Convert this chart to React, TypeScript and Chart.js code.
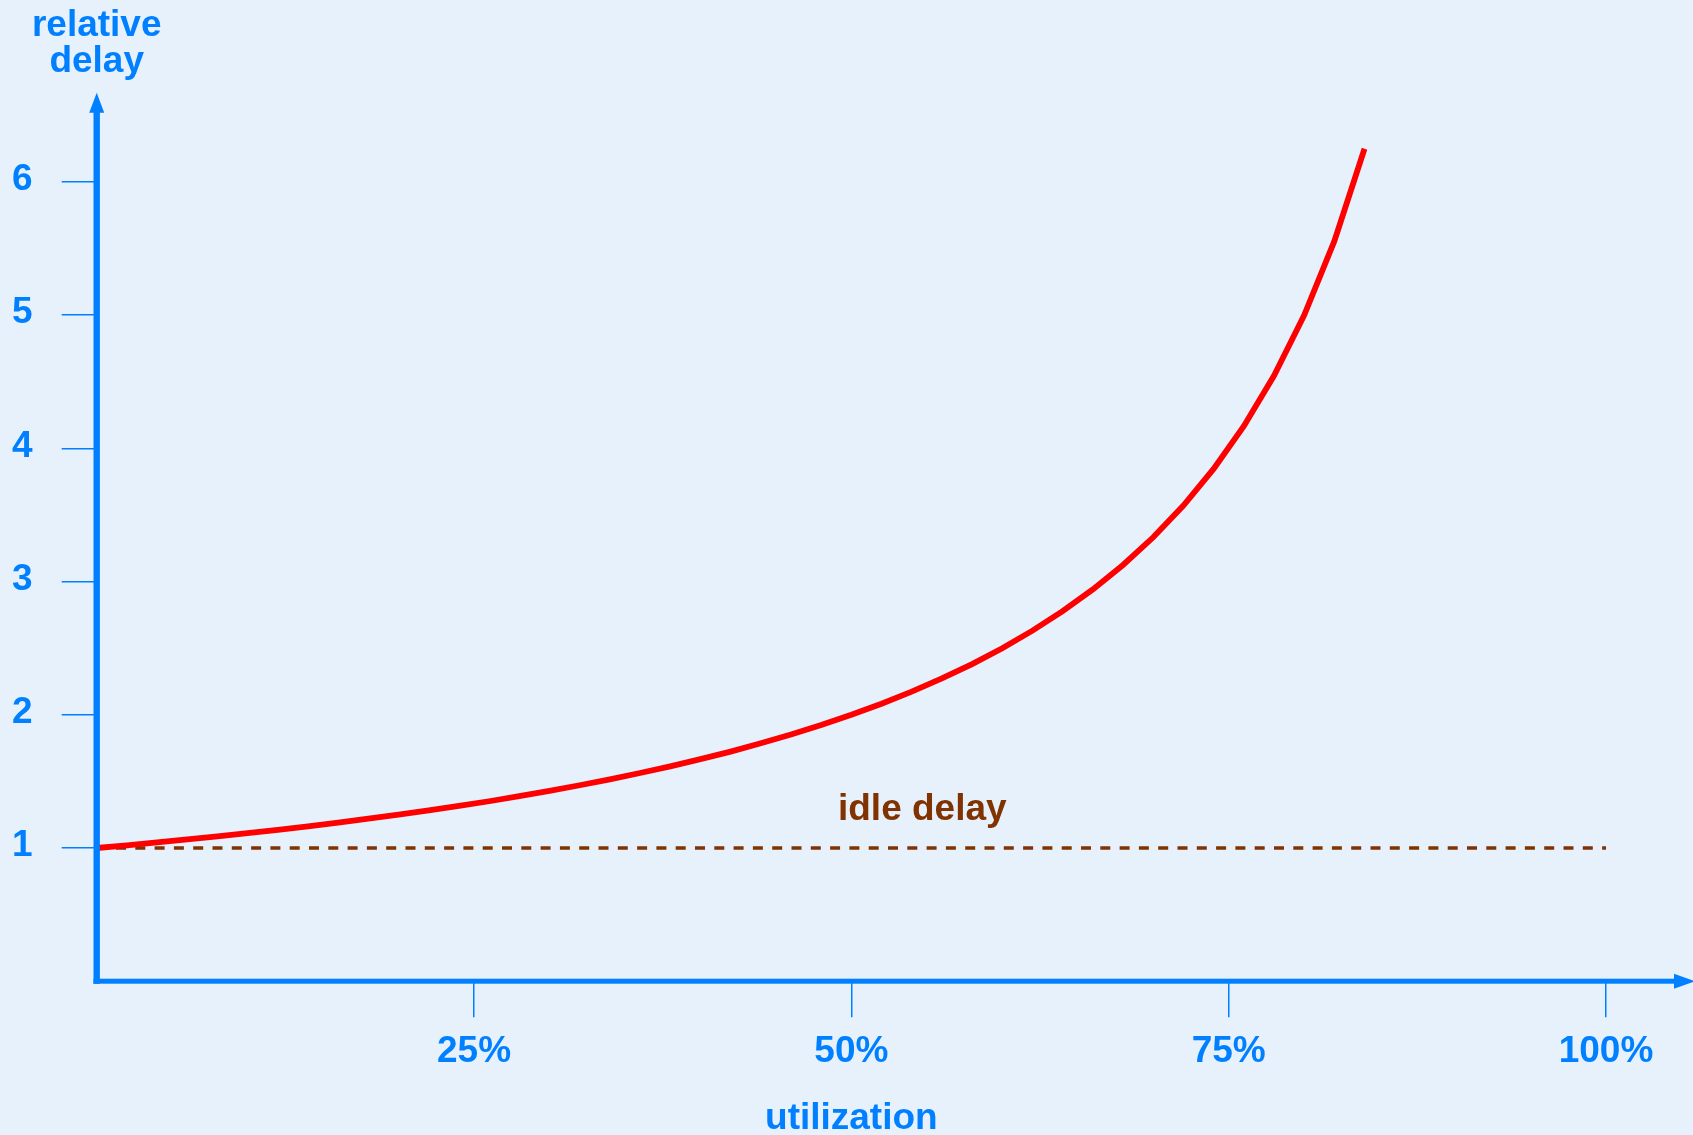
import React, { useEffect, useRef } from "react";
import { Chart, registerables } from "chart.js";

Chart.register(...registerables);

// ---- data ----
const utilization = [
  0, 0.02, 0.04, 0.06, 0.08, 0.1, 0.12, 0.14, 0.16, 0.18, 0.2, 0.22, 0.24, 0.26,
  0.28, 0.3, 0.32, 0.34, 0.36, 0.38, 0.4, 0.42, 0.44, 0.46, 0.48, 0.5, 0.52,
  0.54, 0.56, 0.58, 0.6, 0.62, 0.64, 0.66, 0.68, 0.7, 0.72, 0.74, 0.76, 0.78,
  0.8, 0.82, 0.84,
];
const relativeDelay = [
  1.0, 1.02, 1.042, 1.064, 1.087, 1.111, 1.136, 1.163, 1.19, 1.22, 1.25, 1.282,
  1.316, 1.351, 1.389, 1.429, 1.471, 1.515, 1.563, 1.613, 1.667, 1.724, 1.786,
  1.852, 1.923, 2.0, 2.083, 2.174, 2.273, 2.381, 2.5, 2.632, 2.778, 2.941,
  3.125, 3.333, 3.571, 3.846, 4.167, 4.545, 5.0, 5.556, 6.25,
];
const idleUtilization = [0, 1];
const idleDelay = [1, 1];

const xTickValues = [0.25, 0.5, 0.75, 1];
const xTickLabels = ["25%", "50%", "75%", "100%"];
const yTickValues = [1, 2, 3, 4, 5, 6];
const yTickLabels = ["1", "2", "3", "4", "5", "6"];

const yAxisTitle = ["relative", "delay"];
const xAxisTitle = "utilization";
const idleLabel = "idle delay";

// ---- styles ----
const BG = "#E6F1FC";
const BLUE = "#0080FF";
const RED = "#FF0000";
const BROWN = "#803300";
const FONT = "'Liberation Sans', Arial, sans-serif";
const FS = 37;

const idleLabelPos = { x: 0.547, y: 1.21 };

const decorPlugin = {
  id: "decor",
  afterDraw(chart: any) {
    const { ctx, scales, chartArea } = chart;
    const xs = scales.x;
    const ys = scales.y;
    const x0 = xs.getPixelForValue(0);
    const y0 = ys.getPixelForValue(0);
    const top = chartArea.top;
    const W = chart.width;
    ctx.save();
    ctx.fillStyle = BLUE;
    // y axis shaft + arrow
    ctx.fillRect(x0 - 3.2, top + 18, 6.4, y0 + 2.6 - (top + 18));
    ctx.beginPath();
    ctx.moveTo(x0, top);
    ctx.lineTo(x0 + 7.5, top + 20);
    ctx.lineTo(x0 - 7.5, top + 20);
    ctx.closePath();
    ctx.fill();
    // x axis shaft + arrow
    ctx.fillRect(x0 - 3.2, y0 - 2.5, W - 18 - (x0 - 3.2), 5);
    ctx.beginPath();
    ctx.moveTo(W + 2, y0);
    ctx.lineTo(W - 19, y0 - 7.5);
    ctx.lineTo(W - 19, y0 + 7.5);
    ctx.closePath();
    ctx.fill();

    // y axis title
    ctx.font = `bold ${FS}px ${FONT}`;
    ctx.textAlign = "center";
    ctx.textBaseline = "alphabetic";
    ctx.fillText(yAxisTitle[0], x0, 36);
    ctx.fillText(yAxisTitle[1], x0, 72);

    // idle delay label
    ctx.fillStyle = BROWN;
    ctx.fillText(
      idleLabel,
      xs.getPixelForValue(idleLabelPos.x),
      ys.getPixelForValue(idleLabelPos.y)
    );
    ctx.restore();
  },
};

export default function App() {
  const ref = useRef<HTMLCanvasElement>(null);

  useEffect(() => {
    if (!ref.current) return;
    const chart = new Chart(ref.current, {
      type: "line",
      data: {
        datasets: [
          {
            label: "delay",
            data: utilization.map((u, i) => ({ x: u, y: relativeDelay[i] })),
            borderColor: RED,
            borderWidth: 5.8,
            pointRadius: 0,
            tension: 0,
            fill: false,
            order: 0,
          },
          {
            label: "idle",
            data: idleUtilization.map((u, i) => ({ x: u, y: idleDelay[i] })),
            borderColor: BROWN,
            borderWidth: 3.6,
            borderDash: [10, 9.3],
            pointRadius: 0,
            fill: false,
            order: 1,
          },
        ],
      },
      options: {
        animation: false,
        responsive: false,
        devicePixelRatio: 1,
        layout: { padding: { top: 92.8, right: 87, left: 0, bottom: 0 } },
        plugins: {
          legend: { display: false },
          tooltip: { enabled: false },
        },
        scales: {
          x: {
            type: "linear",
            min: 0,
            max: 1,
            border: { display: false },
            grid: {
              drawOnChartArea: false,
              drawTicks: true,
              tickLength: 36,
              color: BLUE,
              lineWidth: 1.5,
            },
            ticks: {
              color: BLUE,
              font: { family: FONT, size: FS, weight: "bold" },
              padding: 12,
              maxRotation: 0,
              autoSkip: false,
              callback: (v: any) => {
                const i = xTickValues.indexOf(Number(v));
                return i >= 0 ? xTickLabels[i] : "";
              },
            },
            afterBuildTicks: (scale: any) => {
              scale.ticks = xTickValues.map((v) => ({ value: v }));
            },
            afterFit: (scale: any) => {
              scale.height = 153.8;
            },
            title: {
              display: true,
              text: xAxisTitle,
              color: BLUE,
              font: { family: FONT, size: FS, weight: "bold", lineHeight: 1 },
              padding: { top: 0, bottom: -2 },
            },
          },
          y: {
            type: "linear",
            min: 0,
            max: 6.67,
            border: { display: false },
            grid: {
              drawOnChartArea: false,
              drawTicks: true,
              tickLength: 35,
              color: BLUE,
              lineWidth: 1.5,
            },
            ticks: {
              color: BLUE,
              font: { family: FONT, size: FS, weight: "bold" },
              padding: 29,
              labelOffset: -2,
              autoSkip: false,
              callback: (v: any) => {
                const i = yTickValues.indexOf(Number(v));
                return i >= 0 ? yTickLabels[i] : "";
              },
            },
            afterBuildTicks: (scale: any) => {
              scale.ticks = yTickValues.map((v) => ({ value: v }));
            },
            afterFit: (scale: any) => {
              scale.width = 96.7;
            },
          },
        },
      },
      plugins: [decorPlugin],
    });
    return () => chart.destroy();
  }, []);

  return (
    <div
      style={{
        position: "fixed",
        left: 0,
        top: 0,
        width: 1693,
        height: 1135,
        background: BG,
        overflow: "hidden",
      }}
    >
      <canvas ref={ref} width={1693} height={1135} style={{ display: "block" }} />
    </div>
  );
}
